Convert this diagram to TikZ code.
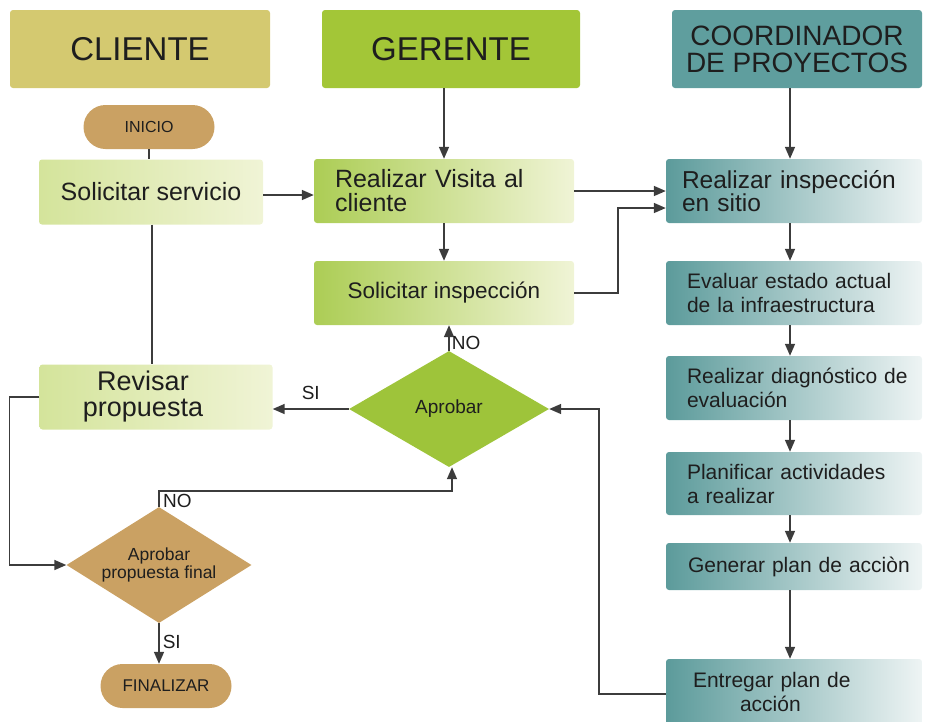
\documentclass[tikz,border=0pt]{standalone}
\usepackage{fontspec}
\setmainfont{Liberation Sans}
\usetikzlibrary{arrows.meta,shapes.geometric}
\definecolor{hcli}{RGB}{212,201,112}
\definecolor{hger}{RGB}{163,198,55}
\definecolor{hcoo}{RGB}{95,158,158}
\definecolor{tan}{RGB}{202,161,99}
\definecolor{dgr}{RGB}{158,196,58}
\definecolor{lg1}{RGB}{212,228,155}
\definecolor{lg2}{RGB}{240,244,214}
\definecolor{mg1}{RGB}{172,205,85}
\definecolor{mg2}{RGB}{220,233,172}
\definecolor{tl1}{RGB}{92,155,155}
\definecolor{tl2}{RGB}{170,205,205}
\definecolor{tl3}{RGB}{238,244,244}
\definecolor{ln}{RGB}{60,60,60}
\definecolor{tx}{RGB}{30,30,30}
\begin{document}
\begin{tikzpicture}[x=1pt,y=-1pt,
  box/.style={rectangle, rounded corners=3pt, inner sep=0pt, text=tx},
  hdr/.style={box, minimum width=#1, minimum height=78pt},
  pale/.style={box, left color=lg1, right color=lg2},
  green/.style={box, left color=mg1, middle color=mg2, right color=lg2},
  teal/.style={box, left color=tl1, middle color=tl2, right color=tl3, minimum width=256pt},
  pill/.style={box, fill=tan, rounded corners=22pt, minimum width=131pt, minimum height=44pt},
  diam/.style={diamond, inner sep=0pt, text=tx, align=center},
  arr/.style={draw=ln, line width=1.6pt, -{Triangle[length=12pt,width=10pt]}},
  ln/.style={draw=ln, line width=1.6pt},
  lab/.style={text=tx, inner sep=0pt, font=\fontsize{19}{20}\selectfont}
]
\useasboundingbox (0,0) rectangle (925,721);

% headers
\node[hdr=260pt, fill=hcli, font=\fontsize{33}{36}\selectfont] (hcli) at (140,49) {CLIENTE};
\node[hdr=258pt, fill=hger, font=\fontsize{33}{36}\selectfont] (hger) at (451,49) {GERENTE};
\node[hdr=250pt, fill=hcoo, align=center, font=\fontsize{28}{27}\selectfont] (hcoo) at (797,49) {COORDINADOR\\DE PROYECTOS};

% cliente column
\node[pill, font=\fontsize{16}{18}\selectfont] (ini) at (149,127) {INICIO};
\node[pale, minimum width=224pt, minimum height=65pt, font=\fontsize{25}{27}\selectfont] (solserv) at (151,192) {Solicitar servicio};
\node[pale, minimum width=233pt, minimum height=65pt, align=center, font=\fontsize{27}{26}\selectfont] (rev) at (156,397) {Revisar\hspace*{26pt}\\propuesta\hspace*{26pt}};
\node[diam, aspect=1.6, fill=tan, minimum width=185pt, minimum height=116pt, font=\fontsize{17.5}{18}\selectfont] (apf) at (159,565) {Aprobar\\propuesta final};
\node[pill, font=\fontsize{17}{18}\selectfont] (fin) at (166,686) {FINALIZAR};

% gerente column
\node[green, minimum width=260pt, minimum height=64pt, text width=218pt, align=left, font=\fontsize{25}{24}\selectfont] (vis) at (444,191) {Realizar Visita al\\cliente};
\node[green, minimum width=260pt, minimum height=64pt, font=\fontsize{22.5}{24}\selectfont] (sinsp) at (444,293) {Solicitar inspección};
\node[diam, aspect=1.72, fill=dgr, minimum width=200pt, minimum height=116pt, font=\fontsize{19}{20}\selectfont] (apr) at (449,409) {Aprobar};

% coordinador column
\node[teal, minimum height=64pt, text width=224pt, align=left, font=\fontsize{24.5}{23}\selectfont] (insp) at (794,191) {\mbox{Realizar inspección}\\en sitio};
\node[teal, minimum height=64pt, text width=214pt, align=left, font=\fontsize{21}{24}\selectfont] (eval) at (794,293) {\mbox{Evaluar estado actual}\\\mbox{de la infraestructura}};
\node[teal, minimum height=64pt, text width=214pt, align=left, font=\fontsize{21}{24}\selectfont] (diag) at (794,388) {\mbox{Realizar diagnóstico de}\\evaluación};
\node[teal, minimum height=63pt, text width=214pt, align=left, font=\fontsize{21}{24}\selectfont] (plan) at (794,483.5) {\mbox{Planificar actividades}\\a realizar};
\node[teal, minimum height=47pt, text width=212pt, align=left, font=\fontsize{21}{24}\selectfont] (gen) at (794,566.5) {\mbox{Generar plan de acciòn}};
\node[teal, minimum height=66pt, text width=202pt, align=left, font=\fontsize{21}{24}\selectfont] (ent) at (794,692) {\mbox{Entregar plan de}\\\hspace*{47pt}acción};

% connectors
\draw[arr] (hger.south -| vis.north) -- (vis.north);
\draw[arr] ([xshift=-4pt]hcoo.south -| insp.north) -- ([xshift=-4pt]insp.north);
\draw[ln] (ini.south) -- (solserv.north -| ini.south);
\draw[arr] ([yshift=-3pt]solserv.east) -- ([yshift=-3pt]solserv.east -| vis.west);
\draw[ln] ([xshift=1pt]solserv.south) -- ([xshift=1pt]solserv.south |- rev.north);
\draw[arr] (vis.east) -- (vis.east -| insp.west);
\draw[arr] (vis.south) -- (sinsp.north);
\draw[arr] (sinsp.east) -- ++(44,0) |- ([yshift=-17pt]insp.west);
\draw[arr] ([xshift=-4pt]insp.south) -- ([xshift=-4pt]eval.north);
\draw[arr] ([xshift=-4pt]eval.south) -- ([xshift=-4pt]diag.north);
\draw[arr] ([xshift=-4pt]diag.south) -- ([xshift=-4pt]plan.north);
\draw[arr] ([xshift=-4pt]plan.south) -- ([xshift=-4pt]gen.north);
\draw[arr] ([xshift=-4pt]gen.south) -- ([xshift=-4pt]ent.north);
\draw[arr] ([yshift=-2pt]ent.west) -- ++(-67,0) |- (apr.east);
\draw[arr] (apr.west) -- (apr.west -| rev.east) node[lab, pos=0.5, above=9pt] (si1) {SI};
\draw[arr] (apr.north) -- (apr.north |- sinsp.south) node[lab, anchor=west, pos=0.3, xshift=2pt] (no1) {NO};
\draw[arr] (rev.west) -- ++(-30,0) |- (apf.west);
\draw[arr] (apf.north) -- ++(0,-16) -| ([xshift=3pt]apr.south);
\node[lab, anchor=north west] (no2) at (163,494) {NO};
\draw[arr] (apf.south) -- (apf.south |- fin.north) node[lab, anchor=west, pos=0.45, xshift=3pt] (si2) {SI};
\end{tikzpicture}
\end{document}
